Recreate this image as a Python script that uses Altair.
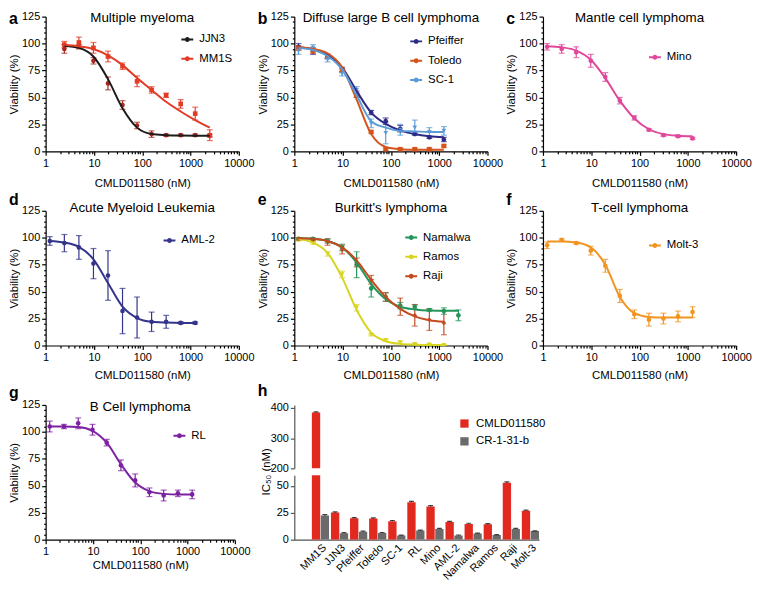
import altair as alt
import pandas as pd

FONT = "Liberation Sans"

# ---------------- concentrations (nM) ----------------
CONC_A = [2.44, 4.88, 9.77, 19.53, 39.06, 78.13, 156.25, 312.5, 625, 1250, 2500]
CONC = [1.22, 2.44, 4.88, 9.77, 19.53, 39.06, 78.13, 156.25, 312.5, 625, 1250]
CONC_LONG = [1.22, 2.44, 4.88, 9.77, 19.53, 39.06, 78.13, 156.25, 312.5, 625, 1250, 2500]

# ---------------- tick values ----------------
X_MAJOR = [1, 10, 100, 1000, 10000]
X_MINOR = [2, 3, 4, 5, 6, 7, 8, 9, 20, 30, 40, 50, 60, 70, 80, 90,
           200, 300, 400, 500, 600, 700, 800, 900,
           2000, 3000, 4000, 5000, 6000, 7000, 8000, 9000]
Y_MAJOR = [0, 25, 50, 75, 100, 125]
Y_MINOR = [5, 10, 15, 20, 30, 35, 40, 45, 55, 60, 65, 70, 80, 85, 90, 95,
           105, 110, 115, 120]

# ---------------- a: multiple myeloma ----------------
JJN3_MEAN = [95, 97, 84, 63, 43, 24, 16, 15, 15, 15, 14.5]
JJN3_ERR = [4, 2, 3, 6, 4, 3, 3, 1, 1, 1, 1]
JJN3_FIT = [98, 96, 88, 67, 40, 22, 16, 15, 14.6, 14.5, 14.5]
MM1S_MEAN = [99, 101, 96, 88, 79, 65, 57, 52, 44, 35, 15]
MM1S_ERR = [3, 5, 5, 5, 3, 5, 3, 2, 4, 6, 5]
MM1S_FIT = [99, 97.5, 95, 89, 80, 68, 57, 46, 37, 29, 22]

# ---------------- b: DLBCL ----------------
PFEIFFER_MEAN = [97, 93, 88, 76, 53, 36, 28, 21, 16, 13, 11]
PFEIFFER_ERR = [3, 3, 2, 2, 3, 2, 3, 3, 1, 1, 2]
PFEIFFER_FIT = [96.5, 94.5, 89.5, 78, 56, 36, 25.5, 19.5, 16, 14, 13]
TOLEDO_MEAN = [96, 93, 88, 75, 52, 18, 2, 2, 2, 2, 5]
TOLEDO_ERR = [2, 2, 2, 2, 2, 1, 1, 1, 1, 1, 1]
TOLEDO_FIT = [96.5, 95, 91, 78, 48, 16, 4, 2, 1.5, 1.5, 1.5]
SC1_MEAN = [93, 96, 85, 72, 57, 26, 17, 20, 22, 18, 19]
SC1_ERR = [3, 3, 2, 2, 3, 4, 10, 5, 7, 4, 4]
SC1_FIT = [96, 94, 88.5, 76, 52, 28, 22, 19, 18.5, 18, 18]

# ---------------- c: mantle cell ----------------
MINO_MEAN = [97, 95, 92, 84, 69, 47, 31, 20, 15, 14, 12]
MINO_ERR = [3, 4, 5, 6, 4, 3, 2, 1, 1, 1, 1]
MINO_FIT = [97.5, 96.5, 93.5, 85, 68, 47, 30.5, 20.5, 16, 14.5, 14]

# ---------------- d: AML ----------------
AML2_MEAN = [97, 95, 91, 76, 65, 32, 26, 22, 22, 21, 21]
AML2_ERR = [4, 8, 11, 14, 23, 21, 19, 9, 6, 1, 1]
AML2_FIT = [97, 95.5, 91.5, 80, 58, 36, 25.5, 22, 21.3, 21, 21]

# ---------------- e: Burkitt ----------------
NAMALWA_MEAN = [99, 99, 97, 91, 75, 53, 45, 37, 36, 33, 32, 28]
NAMALWA_ERR = [1, 1, 2, 3, 12, 8, 4, 3, 2, 1, 3, 5]
NAMALWA_FIT = [99.5, 99, 97, 91, 77, 57, 43, 36, 33.5, 32.5, 32.3, 32.2]
RAMOS_MEAN = [98, 95, 85, 66, 35, 10, 5, 3, 1.5, 1, 0.5]
RAMOS_ERR = [1, 1, 2, 3, 3, 1, 1, 1, 0.5, 0.5, 0.5]
RAMOS_FIT = [98.5, 95.5, 86, 63, 33, 12, 4, 1.5, 0.8, 0.5, 0.5]
RAJI_MEAN = [99, 98, 96, 89, 77, 61, 45, 36, 28, 24, 21]
RAJI_ERR = [1, 1, 3, 4, 4, 4, 4, 8, 10, 10, 11]
RAJI_FIT = [99.5, 99, 97, 91, 79, 61, 45, 34, 27, 23.5, 22]

# ---------------- f: T-cell ----------------
MOLT3_MEAN = [93, 98, 95, 88, 74, 46, 29, 24, 25, 27, 31]
MOLT3_ERR = [3, 1, 1, 4, 6, 6, 4, 6, 5, 5, 5]
MOLT3_FIT = [96.5, 96.5, 95.5, 91, 75, 45, 30, 26.5, 26, 26, 26]

# ---------------- g: B cell ----------------
RL_MEAN = [105, 105, 108, 102, 90, 69, 55, 44, 41, 43, 42]
RL_ERR = [5, 2, 5, 5, 3, 5, 6, 4, 5, 3, 4]
RL_FIT = [105, 105, 104.5, 101, 90, 70, 53, 45, 42.5, 42, 42]

# ---------------- h: IC50 ----------------
IC50_CELLS = ["MM1S", "JJN3", "Pfeiffer", "Toledo", "SC-1", "RL", "Mino",
              "AML-2", "Namalwa", "Ramos", "Raji", "Molt-3"]
COMPOUNDS = ["CMLD011580", "CR-1-31-b"]
IC50_CMLD = [385, 25.3, 20, 19.7, 17.3, 35, 31, 16.5, 14.7, 14.3, 53, 27]
IC50_CMLD_ERR = [2, 0.6, 0.6, 0.6, 0.6, 0.7, 0.7, 0.6, 0.6, 0.6, 0.8, 0.5]
IC50_CR = [22.5, 6, 7.5, 6.2, 3.8, 8.5, 10, 4, 5.7, 4.3, 10, 8]
IC50_CR_ERR = [0.8, 0.5, 0.5, 0.5, 0.4, 0.5, 0.5, 0.4, 0.5, 0.5, 0.5, 0.3]
BAR_COLORS = ["#e2291f", "#6b6b6b"]

LEGEND_SYMBOL = "M-1,0L1,0M-0.25,0A0.25,0.25,0,1,1,0.25,0A0.25,0.25,0,1,1,-0.25,0"

W = 195
H = 136


def series_frame(name, conc, mean, err, fit):
    return pd.DataFrame({
        "series": [name] * len(conc),
        "conc": conc,
        "mean": mean,
        "lo": [m - e for m, e in zip(mean, err)],
        "hi": [m + e for m, e in zip(mean, err)],
        "fit": fit,
    })


def label_layers(letter, title, width, letter_y, title_y):
    lay = [alt.Chart(pd.DataFrame({"panel": [letter]})).mark_text(
        align="left", baseline="alphabetic", fontSize=16, fontWeight="bold",
        color="black").encode(text="panel:N", x=alt.value(-37), y=alt.value(letter_y))]
    if title:
        lay.append(alt.Chart(pd.DataFrame({"title": [title]})).mark_text(
            align="center", baseline="alphabetic", fontSize=13.5, color="black").encode(
            text="title:N", x=alt.value(width / 2), y=alt.value(title_y)))
    return lay


def curve_panel(letter, title, series, legend_x, legend_y, xtitle_pad,
                letter_y, title_y, width=W):
    df = pd.concat([series_frame(s["name"], s["conc"], s["mean"], s["err"], s["fit"])
                    for s in series], ignore_index=True)
    names = [s["name"] for s in series]
    line_scale = alt.Scale(domain=names, range=[s["line"] for s in series])
    pt_scale = alt.Scale(domain=names, range=[s["point"] for s in series])
    shape_scale = alt.Scale(domain=names, range=[s["shape"] for s in series])
    xs = alt.Scale(type="log", domain=[1, 10000], nice=False)
    ys = alt.Scale(domain=[0, 125], nice=False)
    base = alt.Chart(df)

    major_axes = base.mark_line(opacity=0).encode(
        x=alt.X("conc:Q", scale=xs,
                axis=alt.Axis(orient="bottom", values=X_MAJOR, format="d",
                              title="CMLD011580 (nM)", tickSize=4,
                              titlePadding=xtitle_pad, labelFlush=False)),
        y=alt.Y("fit:Q", scale=ys,
                axis=alt.Axis(orient="left", values=Y_MAJOR, format="d",
                              title="Viability (%)", tickSize=4, titlePadding=2)),
        detail="series:N",
    )
    minor_axes = base.mark_line(opacity=0).encode(
        x=alt.X("conc:Q", scale=xs,
                axis=alt.Axis(orient="bottom", values=X_MINOR, labels=False,
                              domain=False, tickSize=2.5, title=None)),
        y=alt.Y("fit:Q", scale=ys,
                axis=alt.Axis(orient="left", values=Y_MINOR, labels=False,
                              domain=False, tickSize=2, title=None)),
        detail="series:N",
    )
    xp = alt.X("conc:Q", scale=xs, axis=None)
    pcol = alt.Color("series:N", scale=pt_scale, legend=None)
    err = base.mark_rule(strokeWidth=1.2).encode(
        x=xp, y=alt.Y("lo:Q", scale=ys, axis=None), y2="hi:Q", color=pcol)
    caps = base.transform_fold(["lo", "hi"], as_=["end", "v"]).mark_tick(
        orient="horizontal", size=6, thickness=1.2).encode(
        x=xp, y=alt.Y("v:Q", scale=ys, axis=None), color=pcol)
    pts = base.mark_point(filled=True, size=22, opacity=1).encode(
        x=xp, y=alt.Y("mean:Q", scale=ys, axis=None), color=pcol,
        shape=alt.Shape("series:N", scale=shape_scale, legend=None))
    fit = base.mark_line(strokeWidth=2, interpolate="monotone").encode(
        x=xp, y=alt.Y("fit:Q", scale=ys, axis=None),
        color=alt.Color("series:N", scale=line_scale,
                        legend=alt.Legend(orient="none", legendX=legend_x, legendY=legend_y,
                                          title=None, symbolType=LEGEND_SYMBOL,
                                          symbolSize=144, symbolStrokeWidth=2,
                                          labelFontSize=11.5, labelColor="black",
                                          rowPadding=6.5, labelOffset=5)))
    layers = [major_axes, minor_axes, err, caps, pts, fit] + label_layers(
        letter, title, width, letter_y, title_y)
    return alt.layer(*layers).resolve_scale(
        color="independent", shape="independent").resolve_axis(
        x="independent", y="independent").properties(width=width, height=H)


def S(name, conc, mean, err, fit, line, point=None, shape="circle"):
    return {"name": name, "conc": conc, "mean": mean, "err": err, "fit": fit,
            "line": line, "point": point or line, "shape": shape}


pa = curve_panel("a", "Multiple myeloma", [
    S("JJN3", CONC_A, JJN3_MEAN, JJN3_ERR, JJN3_FIT, "#1c1c1c", "#a8261d", "circle"),
    S("MM1S", CONC_A, MM1S_MEAN, MM1S_ERR, MM1S_FIT, "#e23b26", None, "square"),
], 136, 16, 9, 7, 5)
pb = curve_panel("b", "Diffuse large B cell lymphoma", [
    S("Pfeiffer", CONC, PFEIFFER_MEAN, PFEIFFER_ERR, PFEIFFER_FIT, "#2d2a86", None, "circle"),
    S("Toledo", CONC, TOLEDO_MEAN, TOLEDO_ERR, TOLEDO_FIT, "#d5541c", None, "square"),
    S("SC-1", CONC, SC1_MEAN, SC1_ERR, SC1_FIT, "#5a9bd8", None, "triangle-down"),
], 116, 18, 9, 7, 5)
pc = curve_panel("c", "Mantle cell lymphoma", [
    S("Mino", CONC, MINO_MEAN, MINO_ERR, MINO_FIT, "#e0489a", None, "circle"),
], 106, 34, 9, 7, 5)
pd_ = curve_panel("d", "Acute Myeloid Leukemia", [
    S("AML-2", CONC, AML2_MEAN, AML2_ERR, AML2_FIT, "#33348a", None, "circle"),
], 118, 23, 7, -6, 1)
pe = curve_panel("e", "Burkitt's lymphoma", [
    S("Namalwa", CONC_LONG, NAMALWA_MEAN, NAMALWA_ERR, NAMALWA_FIT, "#23955a", None, "circle"),
    S("Ramos", CONC, RAMOS_MEAN, RAMOS_ERR, RAMOS_FIT, "#d8d422", None, "triangle-down"),
    S("Raji", CONC, RAJI_MEAN, RAJI_ERR, RAJI_FIT, "#c44a1f", None, "diamond"),
], 111, 20, 7, -6, 1)
pf = curve_panel("f", "T-cell lymphoma", [
    S("Molt-3", CONC, MOLT3_MEAN, MOLT3_ERR, MOLT3_FIT, "#f29420", None, "circle"),
], 106, 28, 7, -6, 1)
pg = curve_panel("g", "B Cell lymphoma", [
    S("RL", CONC, RL_MEAN, RL_ERR, RL_FIT, "#7d21a3", None, "circle"),
], 128, 24, 3, -7, 6, width=191)

# ---------------- h ----------------
bar_df = pd.DataFrame({
    "cell": IC50_CELLS + IC50_CELLS,
    "compound": [COMPOUNDS[0]] * len(IC50_CELLS) + [COMPOUNDS[1]] * len(IC50_CELLS),
    "ic50": IC50_CMLD + IC50_CR,
    "err": IC50_CMLD_ERR + IC50_CR_ERR,
})
bar_df["top"] = bar_df["ic50"] + bar_df["err"]

HW = 247
GREY_AX = "#555555"


def bar_part(ydomain, height, yaxis, xaxis, legend, letter=None):
    xs = alt.Scale(paddingInner=0.1, paddingOuter=0.46, align=1)
    x = alt.X("cell:N", sort=IC50_CELLS, scale=xs, axis=xaxis)
    x_na = alt.X("cell:N", sort=IC50_CELLS, scale=xs, axis=None)
    xo = alt.XOffset("compound:N", sort=COMPOUNDS, scale=alt.Scale(paddingInner=0.06))
    ys = alt.Scale(domain=ydomain, nice=False)
    base = alt.Chart(bar_df)
    bars = base.mark_bar(clip=True).encode(
        x=x, xOffset=xo, y=alt.Y("ic50:Q", scale=ys, axis=yaxis),
        color=alt.Color("compound:N", sort=COMPOUNDS,
                        scale=alt.Scale(domain=COMPOUNDS, range=BAR_COLORS), legend=legend))
    errs = base.mark_rule(clip=True, color="black", strokeWidth=1).encode(
        x=x_na, xOffset=xo, y=alt.Y("ic50:Q", scale=ys, axis=None), y2="top:Q")
    caps = base.mark_tick(clip=True, color="black", orient="horizontal", size=5,
                          thickness=1.2).encode(
        x=x_na, xOffset=xo, y=alt.Y("top:Q", scale=ys, axis=None))
    layers = [bars, errs, caps]
    if letter:
        layers += label_layers(letter, None, HW, -9, 0)
    return alt.layer(*layers).resolve_axis(x="independent", y="independent").properties(
        width=HW, height=height)


upper = bar_part(
    [200, 410], 64,
    alt.Axis(orient="left", values=[200, 300, 400], title=None, tickSize=4,
             domainColor=GREY_AX, tickColor=GREY_AX),
    None,
    alt.Legend(orient="none", legendX=166, legendY=13, title=None, symbolType="square",
               symbolSize=70, labelFontSize=11.5, labelColor="black", rowPadding=5,
               labelOffset=6),
    letter="h")
lower = bar_part(
    [0, 60], 65,
    alt.Axis(orient="left", values=[0, 25, 50], title="IC₅₀ (nM)", tickSize=4,
             domainColor=GREY_AX, tickColor=GREY_AX, titleX=-23, titleY=-4),
    alt.Axis(orient="bottom", labelAngle=-45, title=None, ticks=False, domainColor=GREY_AX,
             labelFontSize=11, labelPadding=2),
    None)
ph = alt.vconcat(upper, lower, spacing=7, bounds="flush").resolve_scale(
    x="independent", y="independent", xOffset="independent", color="independent")

RES = dict(color="independent", shape="independent", x="independent", y="independent")

chart = alt.concat(
    pa, pb, pc, pd_, pe, pf, pg, ph,
    columns=3, spacing={"row": 60, "column": 56}, bounds="flush", align="none"
).resolve_scale(**RES).properties(
    padding={"left": 0, "right": 0, "top": 0, "bottom": -4}
).configure(font=FONT).configure_view(stroke=None).configure_axis(
    domainColor="black", tickColor="black", labelColor="black", titleColor="black",
    labelFont=FONT, titleFont=FONT, labelFontSize=11, titleFontSize=11.5,
    titleFontWeight="normal", grid=False, domainWidth=1.2, tickWidth=1.2, labelPadding=2
).configure_legend(labelFont=FONT)

chart.save("out.html", embed_options={"renderer": "svg", "actions": False})
